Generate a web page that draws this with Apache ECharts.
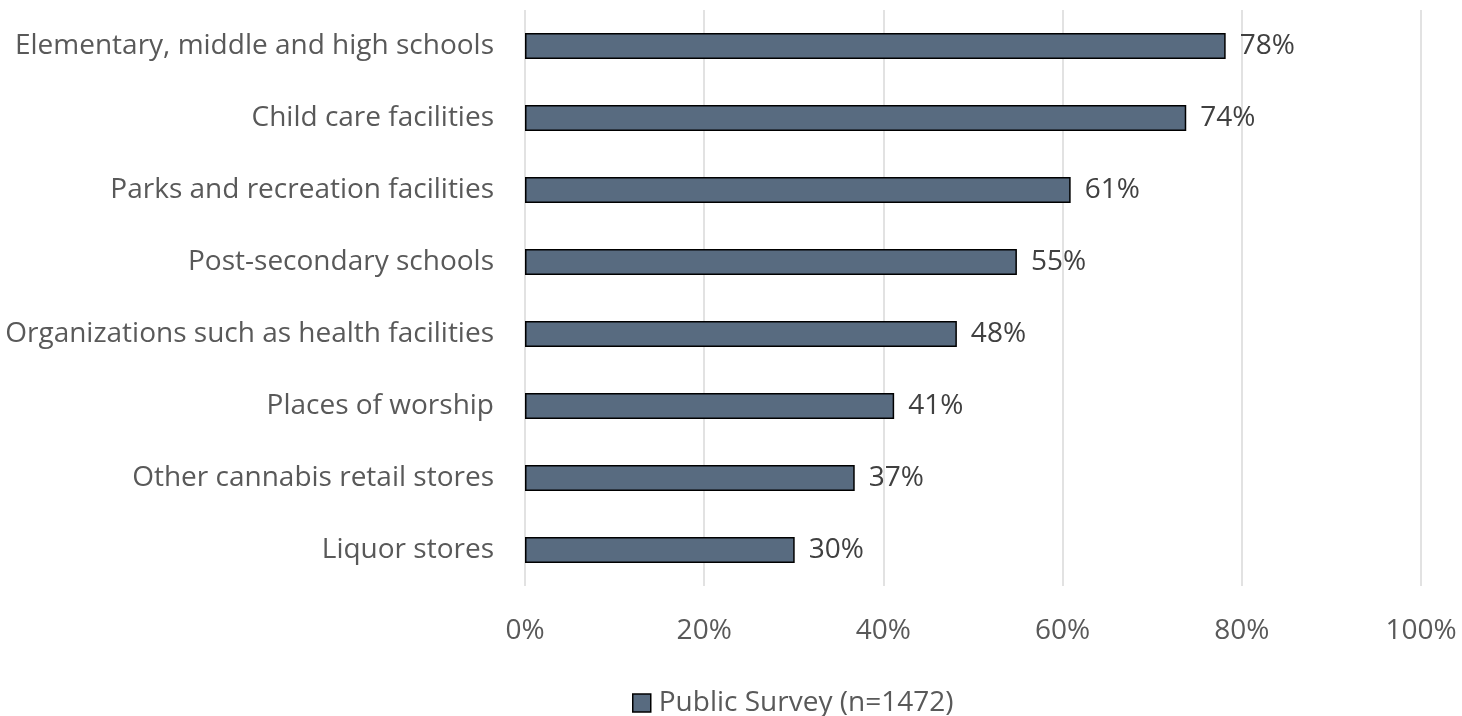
<!DOCTYPE html>
<html>
<head>
<meta charset="utf-8">
<script src="https://cdn.jsdelivr.net/npm/echarts@6/dist/echarts.min.js"></script>
<style>html,body{margin:0;padding:0;background:#fff}#c{width:1462px;height:716px}</style>
</head>
<body>
<div id="c"></div>
<script>
const categories = [
  "Elementary, middle and high schools",
  "Child care facilities",
  "Parks and recreation facilities",
  "Post-secondary schools",
  "Organizations such as health facilities",
  "Places of worship",
  "Other cannabis retail stores",
  "Liquor stores"
];
const values = [78.2, 73.8, 60.9, 54.9, 48.2, 41.2, 36.8, 30.1];
const seriesName = "Public Survey (n=1472)";
const xTicks = [0, 20, 40, 60, 80, 100];

const FONT = "Open Sans";
const chart = echarts.init(document.getElementById('c'), null, {renderer: 'canvas'});
chart.setOption({
  backgroundColor: '#ffffff',
  animation: false,
  grid: {left: 525, right: 41, top: 10, bottom: 130, containLabel: false},
  legend: {
    data: [seriesName],
    left: 627, top: 684,
    itemWidth: 18, itemHeight: 18,
    itemGap: 10,
    itemStyle: {borderColor: '#000', borderWidth: 1.5},
    textStyle: {fontFamily: FONT, fontSize: 28, color: '#595959', padding: [0, 0, 0, 3]},
    icon: 'rect'
  },
  xAxis: {
    type: 'value', min: xTicks[0], max: xTicks[xTicks.length - 1], interval: 20,
    axisLine: {show: false}, axisTick: {show: false},
    splitLine: {show: true, lineStyle: {color: '#d9d9d9', width: 1.5}},
    axisLabel: {formatter: v => v + '%', fontFamily: FONT, fontSize: 28, color: '#595959', margin: 31}
  },
  yAxis: {
    type: 'category', data: categories, inverse: true,
    axisLine: {show: false}, axisTick: {show: false},
    axisLabel: {fontFamily: FONT, fontSize: 28, color: '#595959', margin: 31}
  },
  series: [{
    name: seriesName, type: 'bar', data: values, barWidth: 26,
    itemStyle: {color: '#586B80', borderColor: '#000', borderWidth: 1.5},
    label: {show: true, position: 'right', distance: 14, formatter: p => Math.round(p.value) + '%',
      fontFamily: FONT, fontSize: 28, color: '#404040'}
  }]
});
</script>
</body>
</html>
